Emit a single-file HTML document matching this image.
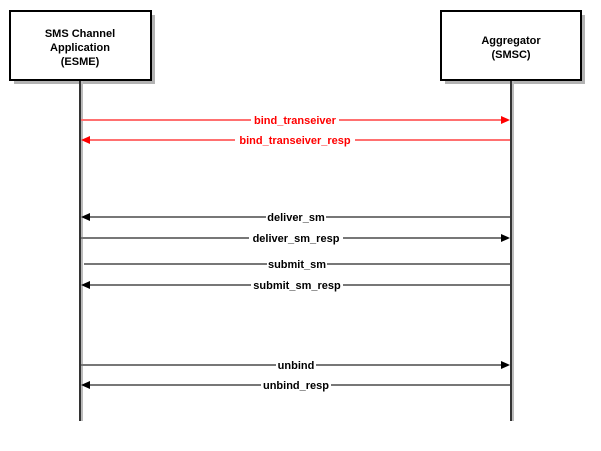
<!DOCTYPE html>
<html><head><style>body{margin:0;background:#fff}</style></head><body>
<svg width="601" height="446" xmlns="http://www.w3.org/2000/svg" font-family="Liberation Sans, Arial, sans-serif" font-size="11" font-weight="bold">
<rect x="14" y="15" width="141" height="69" fill="#b3b3b3"/>
<rect x="10" y="11" width="141" height="69" fill="#fff" stroke="#000" stroke-width="2"/>
<rect x="445" y="15" width="140" height="69" fill="#b3b3b3"/>
<rect x="441" y="11" width="140" height="69" fill="#fff" stroke="#000" stroke-width="2"/>
<g text-anchor="middle" fill="#000">
<text x="80" y="37">SMS Channel</text><text x="80" y="51">Application</text><text x="80" y="65">(ESME)</text>
<text x="511" y="44">Aggregator</text><text x="511" y="58">(SMSC)</text>
</g>
<line x1="82" y1="81" x2="82" y2="421" stroke="#bbb" stroke-width="2"/>
<line x1="513" y1="81" x2="513" y2="421" stroke="#bbb" stroke-width="2"/>
<line x1="80" y1="81" x2="80" y2="421" stroke="#333" stroke-width="2"/>
<line x1="511" y1="81" x2="511" y2="421" stroke="#333" stroke-width="2"/>
<g stroke-width="2">
<line x1="81" y1="120" x2="502" y2="120" stroke="#ff7070"/>
<polygon points="510,120 501,116 501,124" fill="#f00"/>
<line x1="88" y1="140" x2="510" y2="140" stroke="#ff7070"/>
<polygon points="81,140 90,136 90,144" fill="#f00"/>
<line x1="88" y1="217" x2="510" y2="217" stroke="#777"/>
<polygon points="81,217 90,213 90,221" fill="#000"/>
<line x1="81" y1="238" x2="502" y2="238" stroke="#777"/>
<polygon points="510,238 501,234 501,242" fill="#000"/>
<line x1="84" y1="264" x2="510" y2="264" stroke="#777"/>
<line x1="88" y1="285" x2="510" y2="285" stroke="#777"/>
<polygon points="81,285 90,281 90,289" fill="#000"/>
<line x1="81" y1="365" x2="502" y2="365" stroke="#777"/>
<polygon points="510,365 501,361 501,369" fill="#000"/>
<line x1="88" y1="385" x2="510" y2="385" stroke="#777"/>
<polygon points="81,385 90,381 90,389" fill="#000"/>
</g>
<g text-anchor="middle">
<rect x="251" y="113" width="88" height="14" fill="#fff"/><text x="295" y="124" fill="#f00">bind_transeiver</text>
<rect x="235" y="133" width="120" height="14" fill="#fff"/><text x="295" y="144" fill="#f00">bind_transeiver_resp</text>
<rect x="266" y="210" width="60" height="14" fill="#fff"/><text x="296" y="221">deliver_sm</text>
<rect x="249" y="231" width="94" height="14" fill="#fff"/><text x="296" y="242">deliver_sm_resp</text>
<rect x="267" y="257" width="60" height="14" fill="#fff"/><text x="297" y="268">submit_sm</text>
<rect x="251" y="278" width="92" height="14" fill="#fff"/><text x="297" y="289">submit_sm_resp</text>
<rect x="276" y="358" width="40" height="14" fill="#fff"/><text x="296" y="369">unbind</text>
<rect x="261" y="378" width="70" height="14" fill="#fff"/><text x="296" y="389">unbind_resp</text>
</g>
</svg>
</body></html>
